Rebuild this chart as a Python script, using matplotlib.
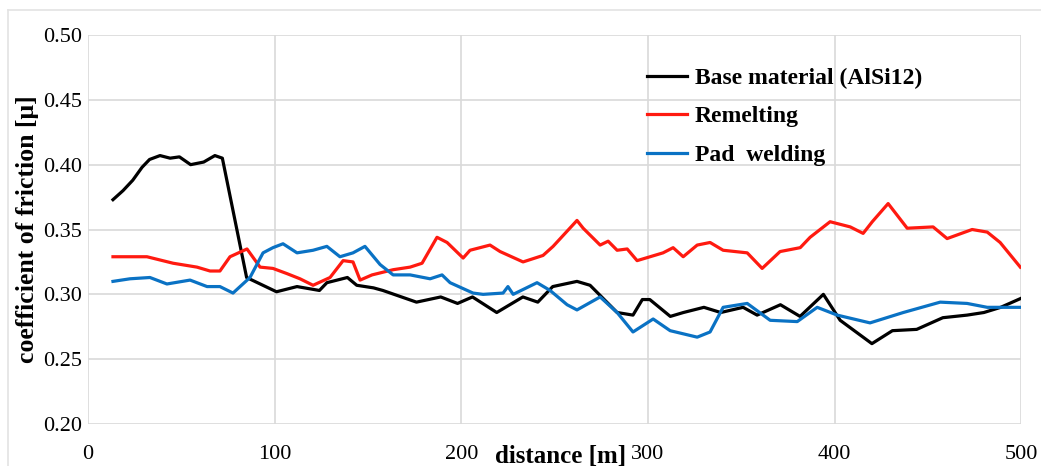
import matplotlib.pyplot as plt
from matplotlib.lines import Line2D

# coefficient of friction vs distance
base_x = [13.4, 18.8, 24, 29, 33, 38.6, 44, 49, 55, 62, 68, 72, 85, 101, 112, 124, 128, 139,
          144, 153, 158, 176, 189, 198, 206, 219, 233, 241, 249, 262, 269, 283.5, 292, 297,
          301, 312, 319, 330, 339, 351, 358.5, 371, 381.5, 394, 403, 420, 431, 444, 458,
          471, 480, 489, 500]
base_y = [0.373, 0.380, 0.388, 0.398, 0.404, 0.407, 0.405, 0.406, 0.400, 0.402, 0.407, 0.405,
          0.313, 0.302, 0.306, 0.303, 0.309, 0.313, 0.307, 0.305, 0.303, 0.294, 0.298, 0.293,
          0.298, 0.286, 0.298, 0.294, 0.306, 0.310, 0.307, 0.286, 0.284, 0.296, 0.296, 0.283,
          0.286, 0.290, 0.286, 0.290, 0.284, 0.292, 0.283, 0.300, 0.280, 0.262, 0.272, 0.273,
          0.282, 0.284, 0.286, 0.290, 0.297]

remelt_x = [13.4, 31.6, 45.6, 58.4, 65.4, 70.7, 76.1, 85.2, 92.2, 99.1, 106.6, 113.6, 120.6,
            129.7, 136.7, 142, 145.8, 152.2, 163.5, 172.6, 179, 187, 192.4, 201, 204.7, 215.4,
            220.8, 233.1, 243.8, 249.2, 262, 265.3, 274.4, 278.7, 283.5, 288.9, 294.2, 308.1,
            313.5, 318.9, 326.4, 333.3, 340.3, 353.2, 361.2, 370.8, 381.6, 386.9, 397.6, 408.4,
            415.3, 420.2, 428.7, 438.9, 452.8, 460.3, 473.7, 481.8, 488.7, 499.5]
remelt_y = [0.329, 0.329, 0.324, 0.321, 0.318, 0.318, 0.329, 0.335, 0.321, 0.320, 0.316, 0.312,
            0.307, 0.313, 0.326, 0.325, 0.311, 0.315, 0.319, 0.321, 0.324, 0.344, 0.340, 0.328,
            0.334, 0.338, 0.333, 0.325, 0.330, 0.337, 0.357, 0.351, 0.338, 0.341, 0.334, 0.335,
            0.326, 0.332, 0.336, 0.329, 0.338, 0.340, 0.334, 0.332, 0.320, 0.333, 0.336, 0.344,
            0.356, 0.352, 0.347, 0.356, 0.370, 0.351, 0.352, 0.343, 0.350, 0.348, 0.340, 0.321]

pad_x = [13.4, 22.5, 33.2, 42.3, 54.7, 63.8, 70.7, 77.7, 86.8, 93.8, 99.1, 104.5, 112, 120.6,
         128, 135, 142, 148.4, 156.5, 163.5, 172.6, 183.3, 189.7, 194, 206.3, 211.7, 222.4,
         225, 227.8, 240.6, 247.6, 256.7, 262, 274.4, 283.5, 292, 302.8, 311.9, 326.4, 333.3,
         340.3, 353.2, 365.5, 380, 390.7, 401.4, 419, 436.8, 456.6, 471, 481.8, 499.5]
pad_y = [0.310, 0.312, 0.313, 0.308, 0.311, 0.306, 0.306, 0.301, 0.313, 0.332, 0.336, 0.339,
         0.332, 0.334, 0.337, 0.329, 0.332, 0.337, 0.323, 0.315, 0.315, 0.312, 0.315, 0.309,
         0.301, 0.300, 0.301, 0.306, 0.300, 0.309, 0.303, 0.292, 0.288, 0.298, 0.286, 0.271,
         0.281, 0.272, 0.267, 0.271, 0.290, 0.293, 0.280, 0.279, 0.290, 0.284, 0.278, 0.286,
         0.294, 0.293, 0.290, 0.290]

labels = ['Base material (AlSi12)', 'Remelting', 'Pad  welding']
colors = ['black', '#ff1a10', '#0a72c4']
x_ticks = [0, 100, 200, 300, 400, 500]
y_ticks = [0.20, 0.25, 0.30, 0.35, 0.40, 0.45, 0.50]

plt.rcParams['font.family'] = ['Liberation Serif', 'DejaVu Serif']

fig = plt.figure(figsize=(10.41, 4.66), dpi=100)
ax = fig.add_axes([0.0845, 0.090, 0.8965, 0.835])

# light frame around the picture (top and left only visible)
fig.add_artist(Line2D([8 / 1041, 1], [1 - 10 / 466, 1 - 10 / 466], color='#e3e3e3', lw=1.2))
fig.add_artist(Line2D([8 / 1041, 8 / 1041], [0, 1 - 10 / 466], color='#e3e3e3', lw=1.2))

for xs, ys, lab, c in zip([base_x, remelt_x, pad_x], [base_y, remelt_y, pad_y], labels, colors):
    ax.plot(xs, ys, color=c, lw=2.3, label=lab)

ax.set_xlim(0, 500)
ax.set_ylim(0.20, 0.50)
ax.set_xticks(x_ticks)
ax.set_yticks(y_ticks)
ax.set_yticklabels([f'{v:.2f}' for v in y_ticks])
ax.grid(True, color='#d9d9d9', lw=1.2)
ax.set_axisbelow(True)
for s in ax.spines.values():
    s.set_visible(False)
ax.tick_params(axis='both', length=0, labelsize=16)
ax.tick_params(axis='x', pad=15)
ax.tick_params(axis='y', pad=4)

ax.set_ylabel('coefficient of friction [μ]', fontsize=18.5, fontweight='bold')
ax.yaxis.set_label_coords(-0.053, 0.5)
ax.set_xlabel('distance [m]', fontsize=18, fontweight='bold')
ax.xaxis.set_label_coords(0.506, -0.053)

leg = ax.legend(loc='upper left', bbox_to_anchor=(0.586, 0.947), frameon=False,
                prop={'size': 17, 'weight': 'bold'}, handlelength=1.7,
                handletextpad=0.34, labelspacing=0.72, borderpad=0)

fig.savefig('out.png', dpi=100)
